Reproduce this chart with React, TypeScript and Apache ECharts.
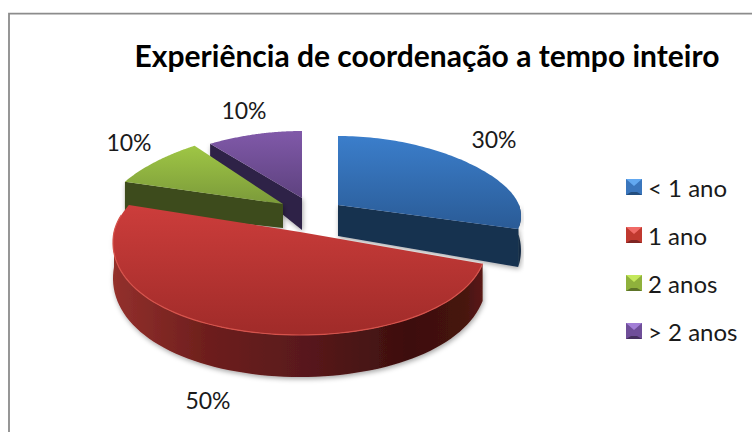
import React, { useEffect, useRef } from "react";
import * as echarts from "echarts";

const categories = ["< 1 ano", "1 ano", "2 anos", "> 2 anos"];
const values = [30, 50, 10, 10];
const titleText = "Experiência de coordenação a tempo inteiro";

// Presentation only: each exploded wedge's own projection and colours.
const wedgeLayouts = [
  { cx: 338, cy: 205, rx: 181, k: 0.15, ryFront: 78, ryBack: 69, d0: 31, d1: 22, z: 1, label: [494, 139],
    top: ["#3b7ecb", "#2a5b96"], side: "#17304f", legend: ["#62a8f0", "#3a76bd", "#234e7f"] },
  { cx: 300, cy: 232, rx: 186, k: 0.105, ryFront: 103, ryBack: 87, d0: 35, d1: 7, z: 4, label: [208, 400],
    top: ["#cc3d3b", "#a02b29"], side: "#3d0f0e", legend: ["#f06a66", "#c0392f", "#7f2523"] },
  { cx: 283, cy: 204, rx: 176, k: 0.18, ryFront: 72, ryBack: 72, d0: 24, d1: -15, z: 3, label: [129, 142],
    top: ["#9fc645", "#7b9a3a"], side: "#3e4c1a", legend: ["#c4e85c", "#8fb13c", "#5d7428"] },
  { cx: 302, cy: 198, rx: 183, k: 0.18, ryFront: 67, ryBack: 67, d0: 32, d1: 24, z: 2, label: [244, 110],
    top: ["#8059a9", "#5e427f"], side: "#2f2146", legend: ["#a27ed6", "#6f4e99", "#46305f"] },
];
const legendTop = 179;
const legendStep = 48;
const legendX = 626;
const legendSize = 16;
const legendFont = 24;

const total = values.reduce((a, b) => a + b, 0);
const startFractions = values.map((_, i) => values.slice(0, i).reduce((a, b) => a + b, 0) / total);

function project(l: any, angle: number) {
  // angle clockwise from 12 o'clock; ny > 0 is towards the viewer
  const ny = -Math.cos(angle);
  const sx = Math.sin(angle);
  const x = l.cx + l.rx * sx * (1 + l.k * ny);
  const y = l.cy + ny * (ny > 0 ? l.ryFront : l.ryBack);
  return { x, y, ny };
}

function makeRender(index: number) {
  return (_params: any, api: any) => {
    const value = api.value(0);
    const l = wedgeLayouts[index];
    const a0 = startFractions[index] * Math.PI * 2;
    const a1 = a0 + (value / total) * Math.PI * 2;
    const steps = 80;
    const arc: { x: number; y: number; ny: number }[] = [];
    for (let i = 0; i <= steps; i++) arc.push(project(l, a0 + ((a1 - a0) * i) / steps));
    const depth = (ny: number) => l.d0 + l.d1 * ny;
    const topPts = [[l.cx, l.cy], ...arc.map((p) => [p.x, p.y])];
    const front = arc.filter((p) => p.ny >= -0.02);
    const wall = (p: { x: number; y: number; ny: number }) => [
      [l.cx, l.cy], [p.x, p.y], [p.x, p.y + depth(p.ny)], [l.cx, l.cy + depth(0)],
    ];
    const sideFill = index === 1
      ? new echarts.graphic.LinearGradient(0, 0, 1, 0, [
          { offset: 0, color: "#93302c" }, { offset: 0.25, color: "#6e1f1d" },
          { offset: 0.55, color: "#56181a" }, { offset: 0.8, color: "#3d0f0e" },
          { offset: 0.95, color: "#46130f" }, { offset: 1, color: "#5a1a18" },
        ])
      : l.side;
    const shadow = { shadowBlur: 5, shadowColor: "rgba(0,0,0,0.35)", shadowOffsetX: 1, shadowOffsetY: 2 };
    const children: any[] = [];
    // only faces that turn towards the viewer are drawn
    if (front.length > 1) {
      const rimPts = [...front.map((p) => [p.x, p.y]), ...front.slice().reverse().map((p) => [p.x, p.y + depth(p.ny)])];
      children.push({ type: "polygon", z2: l.z, shape: { points: rimPts }, style: { fill: sideFill, ...shadow } });
    }
    if (-Math.sin(a0) > 1e-6) {
      children.push({ type: "polygon", z2: l.z, shape: { points: wall(arc[0]) }, style: { fill: l.side, ...shadow } });
    }
    if (Math.sin(a1) > 1e-6) {
      children.push({ type: "polygon", z2: l.z, shape: { points: wall(arc[steps]) }, style: { fill: l.side, ...shadow } });
    }
    children.push(
      {
        type: "polygon", z2: l.z + 0.5, shape: { points: topPts },
        style: { fill: new echarts.graphic.LinearGradient(0, 0, 0, 1, [
          { offset: 0, color: l.top[0] }, { offset: 1, color: l.top[1] },
        ]) },
      },
      {
        type: "text", z2: 10, x: l.label[0], y: l.label[1],
        style: {
          text: `${Math.round((value / total) * 100)}%`, fill: "#1a1a1a",
          font: "23px Lato", align: "center", verticalAlign: "middle",
        },
      },
    );
    if (index === 1) {
      children.push({
        type: "polyline", z2: l.z + 0.6,
        shape: { points: arc.filter((p) => p.ny > -0.2).map((p) => [p.x, p.y]) },
        style: { fill: "none", stroke: "#d6534c", lineWidth: 1.2 },
      });
    }
    return { type: "group", children };
  };
}

function bevel(i: number) {
  const x = legendX, y = legendTop + i * legendStep, s = legendSize, m = 5;
  const c = wedgeLayouts[i].legend;
  return [
    { type: "rect", z: 20, shape: { x, y, width: s, height: s }, style: { fill: c[1] } },
    { type: "polygon", z: 21, shape: { points: [[x, y], [x + s, y], [x + s / 2, y + m + 2]] }, style: { fill: c[0] } },
    { type: "polygon", z: 21, shape: { points: [[x, y + s], [x + s, y + s], [x + s - m, y + s - 3], [x + m, y + s - 3]] }, style: { fill: c[2] } },
  ];
}

export default function App() {
  const ref = useRef<HTMLDivElement>(null);
  useEffect(() => {
    const chart = echarts.init(ref.current!, undefined, { renderer: "svg" });
    chart.setOption({
      animation: false,
      backgroundColor: "#ffffff",
      title: {
        text: titleText, left: 427, top: 40, textAlign: "center", padding: 0,
        textStyle: { fontFamily: "Lato", fontWeight: "bold", fontSize: 30, color: "#000000" },
      },
      legend: {
        left: legendX, top: legendTop - 4, orient: "vertical", itemWidth: legendSize, itemHeight: legendSize,
        itemGap: legendStep - 24, icon: "rect", selectedMode: false, padding: 0,
        textStyle: { fontFamily: "Lato", fontSize: legendFont, lineHeight: 24, color: "#1a1a1a", padding: [0, 0, 0, 1] },
        data: categories.map((name, i) => ({ name, itemStyle: { color: wedgeLayouts[i].legend[1] } })),
      },
      graphic: [
        { type: "rect", z: 0, shape: { x: 9, y: 13.7, width: 760, height: 440 },
          style: { fill: "none", stroke: "#8c8c8c", lineWidth: 1.8 } },
        ...categories.flatMap((_, i) => bevel(i)),
      ],
      series: categories.map((name, i) => ({
        type: "custom", name, coordinateSystem: "none", data: [[values[i]]],
        itemStyle: { color: wedgeLayouts[i].legend[1] },
        encode: { value: 0 }, renderItem: makeRender(i),
      })),
    });
    return () => chart.dispose();
  }, []);
  return <div ref={ref} style={{ position: "absolute", left: 0, top: 0, width: 752, height: 432 }} />;
}
